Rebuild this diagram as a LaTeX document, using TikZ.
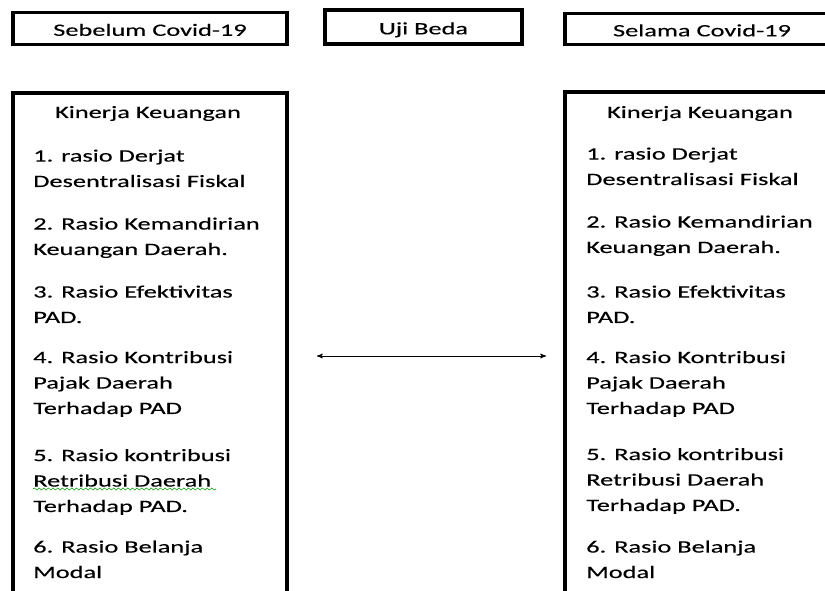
\documentclass[tikz,border=0pt]{standalone}
\usepackage{fontspec}
\setmainfont{Carlito}[FakeStretch=1.52, FakeBold=0.3]
\usetikzlibrary{arrows,decorations.pathmorphing}

\begin{document}
\begin{tikzpicture}[x=0.75pt,y=-0.75pt]
\tikzstyle{every node}=[inner sep=0pt, font=\fontsize{13}{19.1}\selectfont]
\tikzstyle{kotak}=[draw, line width=2.3pt, minimum height=23.5pt, text height=11pt, text depth=0pt]
\tikzstyle{butir}=[anchor=base west, align=left]
\clip (0,0) rectangle (825,591);
\fill[white] (0,0) rectangle (825,591);
\draw (150,28.5) node (sebelum) [kotak, minimum width=205.5pt] {Sebelum Covid-19};
\draw (423.5,27) node (uji) [kotak, minimum width=147.75pt, minimum height=25.5pt] {Uji Beda};
\draw (702,29) node (selama) [kotak, minimum width=205.5pt] {Selama Covid-19};
\draw[line width=2.3pt] (13,93) rectangle (287,640);
\draw[line width=2.3pt] (565,92) rectangle (839,640);
\draw (148,118) node (judul1) [anchor=base] {Kinerja Keuangan};
\draw (33,187) node (a1) [butir] {1. rasio Derjat\\Desentralisasi Fiskal};
\draw (33,255) node (a2) [butir] {2. Rasio Kemandirian\\Keuangan Daerah.};
\draw (33,323) node (a3) [butir] {3. Rasio Efektivitas\\PAD.};
\draw (33,414) node (a4) [butir] {4. Rasio Kontribusi\\Pajak Daerah\\Terhadap PAD};
\draw (33,512) node (a5) [butir] {5. Rasio kontribusi\\Retribusi Daerah\\Terhadap PAD.};
\draw (33,578) node (a6) [butir] {6. Rasio Belanja\\Modal};
\draw (700,118) node (judul2) [anchor=base] {Kinerja Keuangan};
\draw (586,185) node (b1) [butir] {1. rasio Derjat\\Desentralisasi Fiskal};
\draw (586,253) node (b2) [butir] {2. Rasio Kemandirian\\Keuangan Daerah.};
\draw (586,323) node (b3) [butir] {3. Rasio Efektivitas\\PAD.};
\draw (586,414) node (b4) [butir] {4. Rasio Kontribusi\\Pajak Daerah\\Terhadap PAD};
\draw (586,511) node (b5) [butir] {5. Rasio kontribusi\\Retribusi Daerah\\Terhadap PAD.};
\draw (586,578) node (b6) [butir] {6. Rasio Belanja\\Modal};
\draw[green!60!black, decorate, decoration={snake, amplitude=0.8pt, segment length=3.5pt}] (33,489) -- (216,489);
\coordinate (kiri) at (317,356);
\coordinate (kanan) at (546,356);
\draw[>=stealth', <->, line width=0.6pt] (kiri) -- (kanan);
\end{tikzpicture}
\end{document}
